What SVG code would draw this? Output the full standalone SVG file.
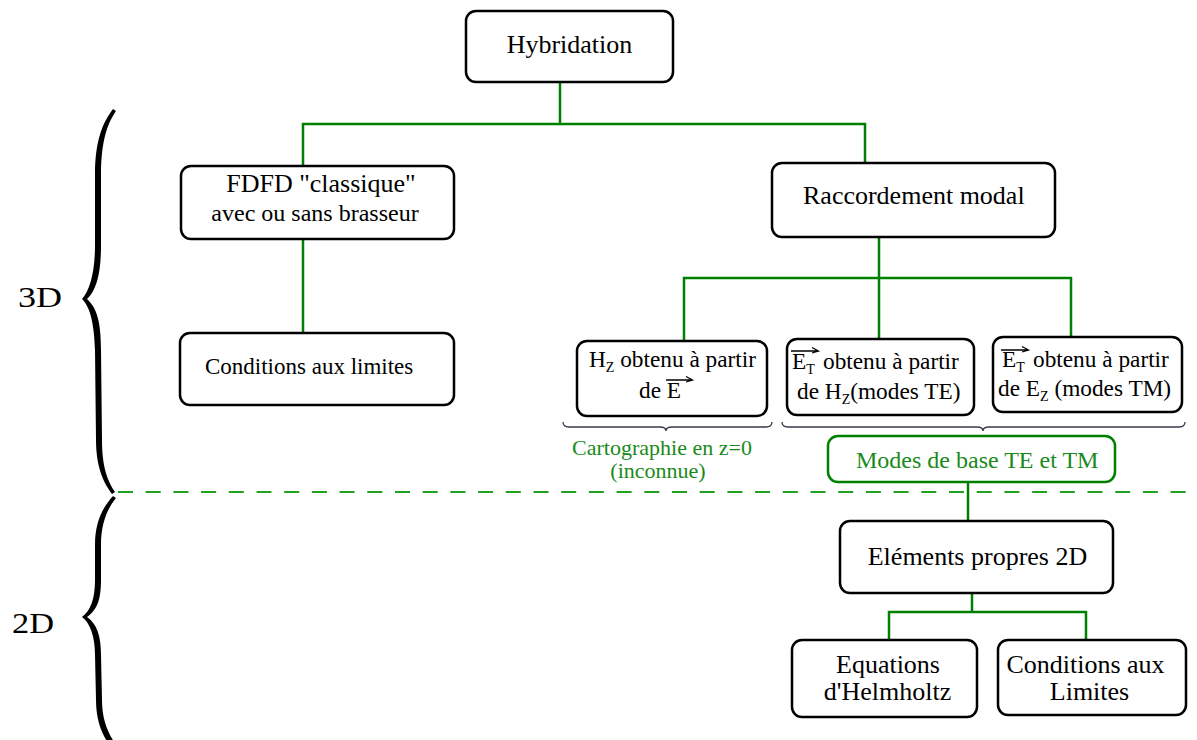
<svg xmlns="http://www.w3.org/2000/svg" width="1197" height="740" viewBox="0 0 1197 740">
  <style>
    .box { fill: #ffffff; stroke: #000000; stroke-width: 2.5; }
    .gbox { fill: #ffffff; stroke: #008000; stroke-width: 2.5; }
    .link { fill: none; stroke: #008000; stroke-width: 2.5; }
    .t { font-family: "Liberation Serif", "Times New Roman", serif; fill: #000000; }
    .g { font-family: "Liberation Serif", "Times New Roman", serif; fill: #1a8a1a; }
    .vec { fill: none; stroke: #000000; stroke-width: 1.3; }
    .brace { fill: #000000; }
    .hbrace { fill: none; stroke: #3a3a4a; stroke-width: 1.3; }
  </style>

  <rect width="1197" height="740" fill="#ffffff"/>

  <!-- 3D / 2D separator -->
  <line x1="118" y1="492" x2="1197" y2="492" stroke="#22a022" stroke-width="2" stroke-dasharray="15 12.7"/>

  <!-- side braces and labels -->
  <g id="side-3d">
    <path class="brace" d="M113,109 C103,122 95,140 95,175 L95,245 C95,272 90,290 82,299 C90,307 94,322 95,350 L96,440 C96,466 103,482 112,494 L115,492 C107,480 102,466 102,440 L101,350 C101,322 97,308 87,299 C97,290 101,272 101,245 L101,175 C101,142 107,124 116,111 Z"/>
    <text class="t" x="18" y="307" font-size="30" textLength="44" lengthAdjust="spacingAndGlyphs">3D</text>
  </g>
  <g id="side-2d">
    <path class="brace" d="M113,496 C104,506 95,520 95,545 L95,580 C95,600 90,611 82,617 C90,623 95,636 95,655 L96,700 C96,722 103,736 110,746 L117,746 C108,734 102,720 102,700 L101,655 C101,636 97,624 87,617 C97,610 101,600 101,580 L101,545 C101,522 108,508 116,498 Z"/>
    <text class="t" x="12" y="633" font-size="30" textLength="42" lengthAdjust="spacingAndGlyphs">2D</text>
  </g>

  <!-- connectors -->
  <g id="connectors">
    <path class="link" d="M560,82 V124 M303,166 V124 H865 V163"/>
    <path class="link" d="M303,239 V333"/>
    <path class="link" d="M879,237 V339 M684,341 V278 H1071 V337"/>
    <path class="link" d="M968,482 V521"/>
    <path class="link" d="M972,593 V612 M889,640 V612 H1086 V640"/>
  </g>

  <g id="hybridation">
    <rect class="box" x="466" y="11" width="207" height="71" rx="10"/>
    <text class="t" x="569.5" y="53" font-size="26" text-anchor="middle">Hybridation</text>
  </g>

  <g id="fdfd">
    <rect class="box" x="181" y="166" width="273" height="73" rx="10"/>
    <text class="t" x="321" y="192" font-size="26" text-anchor="middle">FDFD "classique"</text>
    <text class="t" x="315" y="221" font-size="24" text-anchor="middle">avec ou sans brasseur</text>
  </g>

  <g id="conditions-3d">
    <rect class="box" x="180" y="333" width="274" height="72" rx="10"/>
    <text class="t" x="205" y="374" font-size="23">Conditions aux limites</text>
  </g>

  <g id="raccordement">
    <rect class="box" x="772" y="163" width="283" height="74" rx="10"/>
    <text class="t" x="803" y="204" font-size="26">Raccordement modal</text>
  </g>

  <g id="hz-from-e">
    <rect class="box" x="577" y="341" width="190" height="75" rx="10"/>
    <text class="t" x="589" y="367" font-size="23.3">H<tspan dy="5" font-size="14">Z</tspan><tspan dy="-5"> obtenu à partir</tspan></text>
    <text class="t" x="639" y="398" font-size="23.3">de E</text>
    <path class="vec" d="M666,380 H692 M686,376.5 L692.5,380 L686,382"/>
  </g>

  <g id="et-from-hz">
    <rect class="box" x="787" y="339" width="187" height="76" rx="10"/>
    <text class="t" x="792" y="369" font-size="23.3">E<tspan dy="5" font-size="14">T</tspan><tspan dy="-5" x="823">obtenu à partir</tspan></text>
    <path class="vec" d="M791,351 H818 M812,347.5 L818.5,351 L812,353"/>
    <text class="t" x="797" y="399" font-size="23.3">de H<tspan dy="5" font-size="14">Z</tspan><tspan dy="-5">(modes TE)</tspan></text>
  </g>

  <g id="et-from-ez">
    <rect class="box" x="993" y="337" width="189" height="75" rx="10"/>
    <text class="t" x="1002" y="367" font-size="23.3">E<tspan dy="5" font-size="14">T</tspan><tspan dy="-5" x="1033">obtenu à partir</tspan></text>
    <path class="vec" d="M1001,350 H1028 M1022,346.5 L1028.5,350 L1022,352"/>
    <text class="t" x="998" y="396" font-size="23.3">de E<tspan dy="5" font-size="14">Z</tspan><tspan dy="-5"> (modes TM)</tspan></text>
  </g>

  <g id="cartographie">
    <path class="hbrace" d="M563,422 Q563,427 569,427 L660,427 Q666,427 666,431 Q666,427 672,427 L766,427 Q772,427 772,422"/>
    <text class="g" x="662" y="455" font-size="22" text-anchor="middle">Cartographie en z=0</text>
    <text class="g" x="658" y="478" font-size="22" text-anchor="middle">(inconnue)</text>
  </g>

  <g id="modes-base">
    <path class="hbrace" d="M782,422 Q782,427 788,427 L977,427 Q983,427 983,431 Q983,427 989,427 L1179,427 Q1185,427 1185,422"/>
    <rect class="gbox" x="828" y="436" width="287" height="46" rx="10"/>
    <text class="g" x="856" y="468" font-size="24">Modes de base TE et TM</text>
  </g>

  <g id="elements-2d">
    <rect class="box" x="840" y="521" width="273" height="72" rx="10"/>
    <text class="t" x="977.5" y="565" font-size="26" text-anchor="middle">Eléments propres 2D</text>
  </g>

  <g id="helmholtz">
    <rect class="box" x="792" y="640" width="185" height="77" rx="10"/>
    <text class="t" x="888" y="673" font-size="26" text-anchor="middle">Equations</text>
    <text class="t" x="887.5" y="700" font-size="26" text-anchor="middle">d'Helmholtz</text>
  </g>

  <g id="conditions-2d">
    <rect class="box" x="998" y="640" width="188" height="75" rx="10"/>
    <text class="t" x="1085.5" y="673" font-size="26" text-anchor="middle">Conditions aux</text>
    <text class="t" x="1089.5" y="700" font-size="26" text-anchor="middle">Limites</text>
  </g>
</svg>
